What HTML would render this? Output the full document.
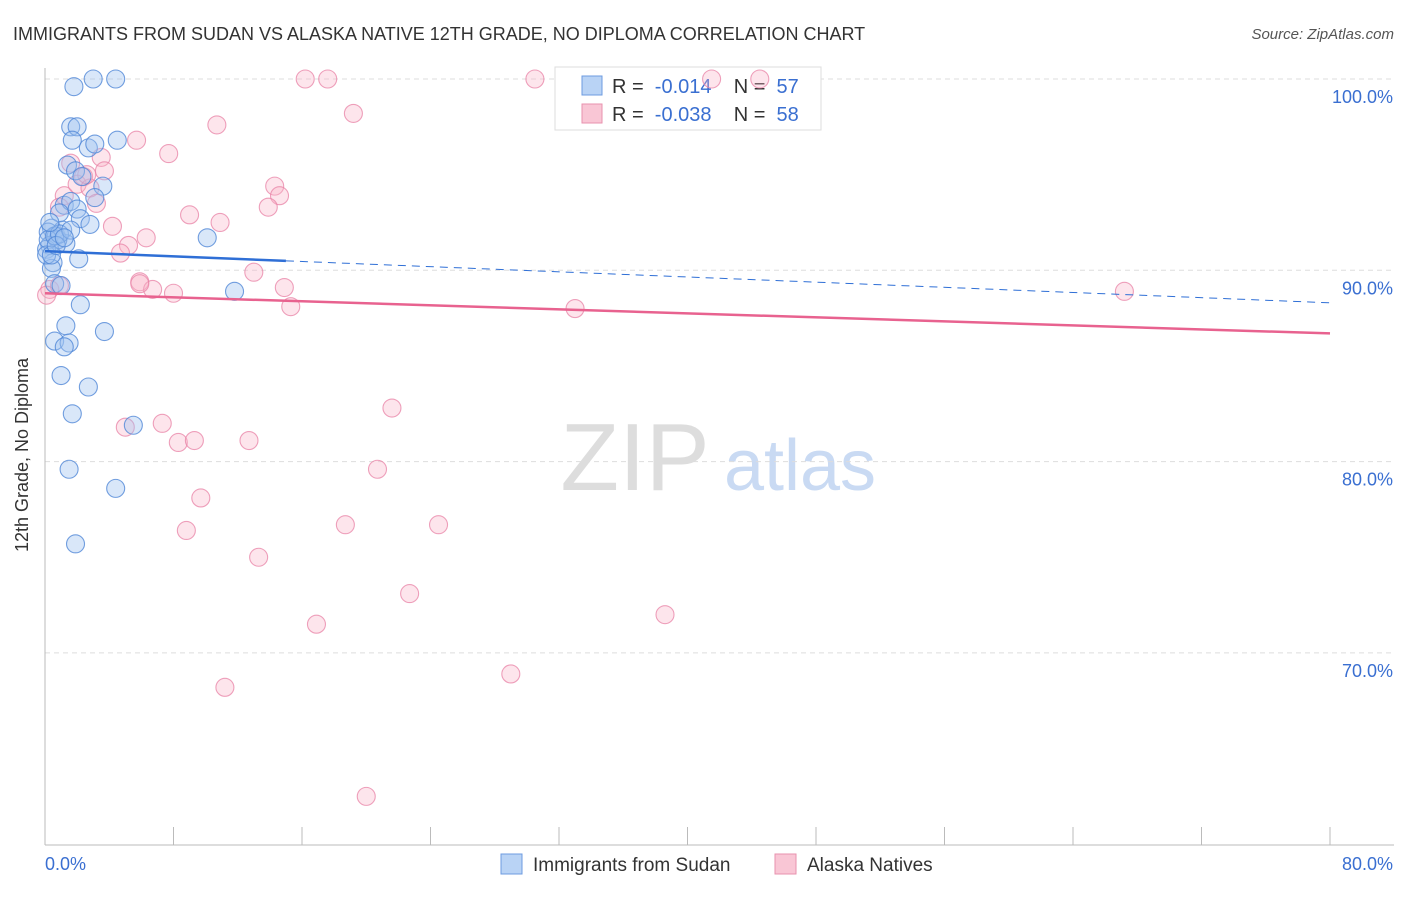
<!DOCTYPE html>
<html><head><meta charset="utf-8"><style>
body{margin:0;background:#fff;font-family:"Liberation Sans",sans-serif}
svg text{font-family:"Liberation Sans",sans-serif}
</style></head><body>
<svg width="1406" height="892" id="chart">
<text x="13" y="40" font-size="18" fill="#333">IMMIGRANTS FROM SUDAN VS ALASKA NATIVE 12TH GRADE, NO DIPLOMA CORRELATION CHART</text>
<text x="1394" y="39" font-size="15" fill="#555" text-anchor="end" font-style="italic">Source: ZipAtlas.com</text>
<text x="28" y="455" font-size="18" fill="#333" text-anchor="middle" transform="rotate(-90 28 455)">12th Grade, No Diploma</text>
<g><text x="635" y="490" font-size="96" fill="#ddd" font-family="Liberation Serif" text-anchor="middle">ZIP</text><text x="800" y="490" font-size="72" fill="#c9daf3" text-anchor="middle">atlas</text></g>
<g id="grid"></g><g id="axes"></g>
<g>
<rect x="555" y="67" width="266" height="63" fill="#fff" stroke="#ddd"/>
<rect x="582" y="76" width="20" height="19" fill="#b9d3f5" stroke="#6d9be0"/>
<rect x="582" y="104" width="20" height="19" fill="#f9c6d5" stroke="#e892ae"/>
<text x="612" y="93" font-size="20" fill="#333" xml:space="preserve">R =  <tspan fill="#3a6fd1">-0.014</tspan>    N =  <tspan fill="#3a6fd1">57</tspan></text>
<text x="612" y="121" font-size="20" fill="#333" xml:space="preserve">R =  <tspan fill="#3a6fd1">-0.038</tspan>    N =  <tspan fill="#3a6fd1">58</tspan></text>
</g>
<g id="marks"></g><g id="trends"></g>
<g>
<rect x="501" y="854" width="21" height="20" fill="#b9d3f5" stroke="#6d9be0"/>
<text x="533" y="871" font-size="19" fill="#333">Immigrants from Sudan</text>
<rect x="775" y="854" width="21" height="20" fill="#f9c6d5" stroke="#e892ae"/>
<text x="807" y="871" font-size="19" fill="#333">Alaska Natives</text>
</g>
</svg>
<script>
const yTicks=[100,90,80,70];
const yTickLabels=["100.0%","90.0%","80.0%","70.0%"];
const xTicks=[0,8,16,24,32,40,48,56,64,72,80];
const blueX=[1.8,3.0,4.4,1.6,2.0,1.7,2.7,3.1,4.5,1.4,1.9,2.3,3.6,3.1,1.2,1.6,2.0,0.9,2.2,2.8,10.1,0.4,0.2,0.7,1.1,1.3,0.3,0.8,0.1,0.5,0.4,2.1,0.6,1.0,2.2,1.3,3.7,0.6,1.5,1.2,1.0,2.7,1.7,5.5,1.5,4.4,1.9,11.8,0.2,0.6,0.9,0.1,1.6,0.4,0.7,1.2,0.3];
const blueY=[99.6,100,100,97.5,97.5,96.8,96.4,96.6,96.8,95.5,95.2,94.9,94.4,93.8,93.4,93.6,93.2,93.0,92.7,92.4,91.7,92.2,92.0,91.8,92.1,91.4,91.3,91.6,91.1,90.4,90.1,90.6,89.3,89.2,88.2,87.1,86.8,86.3,86.2,86.0,84.5,83.9,82.5,81.9,79.6,78.6,75.7,88.9,91.6,91.8,91.9,90.8,92.1,90.8,91.3,91.7,92.5];
const pinkX=[16.2,17.6,30.5,41.5,44.5,19.2,10.7,5.7,7.7,3.5,3.7,1.6,2.4,1.2,2.0,2.8,3.2,0.9,14.3,14.6,13.9,9.0,10.9,4.2,6.3,5.2,4.7,13.0,5.9,6.7,8.0,14.9,15.3,33.0,67.2,0.3,0.1,21.6,7.3,5.0,8.3,9.3,12.7,20.7,9.7,18.7,24.5,8.8,13.3,22.7,16.9,38.6,11.2,29.0,20.0,2.6,0.9,5.9];
const pinkY=[100,100,100,100,100,98.2,97.6,96.8,96.1,95.9,95.2,95.6,94.9,93.9,94.5,94.3,93.5,93.3,94.4,93.9,93.3,92.9,92.5,92.3,91.7,91.3,90.9,89.9,89.4,89.0,88.8,89.1,88.1,88.0,88.9,89.0,88.7,82.8,82.0,81.8,81.0,81.1,81.1,79.6,78.1,76.7,76.7,76.4,75.0,73.1,71.5,72.0,68.2,68.9,62.5,95.0,89.2,89.3];
const blueTrend=[91.0,88.3];
const pinkTrend=[88.8,86.7];
const NS="http://www.w3.org/2000/svg";
const X=v=>45+v*(1285/80);
const Y=v=>79+(100-v)*19.13;
function mk(t,a,p){const e=document.createElementNS(NS,t);for(const k in a)e.setAttribute(k,a[k]);document.getElementById(p).appendChild(e);return e;}
yTicks.forEach((t,i)=>{
 const g=mk('line',{x1:45,x2:1394,y1:Y(t),y2:Y(t),stroke:'#ddd','stroke-dasharray':'5,4'},'grid');
 
 
 const l=mk('text',{x:1393,y:Y(t)+24,'font-size':18,fill:'#3a6fd1','text-anchor':'end'},'axes');
 l.textContent=yTickLabels[i];
 
 
});
const ax=mk('line',{x1:45,x2:45,y1:68,y2:845,stroke:'#bbb'},'axes');


const bx=mk('line',{x1:45,x2:1394,y1:845,y2:845,stroke:'#bbb'},'axes');


xTicks.forEach(t=>{
 const k=mk('line',{x1:X(t),x2:X(t),y1:827,y2:845,stroke:'#bbb'},'axes');
 
 
});
const x0=mk('text',{x:45,y:870,'font-size':18,fill:'#3a6fd1'},'axes');x0.textContent='0.0%';


const x1=mk('text',{x:1393,y:870,'font-size':18,fill:'#3a6fd1','text-anchor':'end'},'axes');x1.textContent='80.0%';


function pts(xs,ys,fill,stroke,name){xs.forEach((v,i)=>{
 const c=mk('circle',{cx:X(v),cy:Y(ys[i]),r:9,fill:fill,stroke:stroke,'stroke-width':1.1},'marks');
 
 
});}
pts(pinkX,pinkY,'rgba(248,180,200,0.35)','rgba(232,130,165,0.75)','alaska-point');
pts(blueX,blueY,'rgba(160,196,240,0.4)','rgba(80,135,215,0.8)','sudan-point');
const bs=blueTrend[0]+(blueTrend[1]-blueTrend[0])*15/80;
const t1=mk('line',{x1:X(0),y1:Y(blueTrend[0]),x2:X(15),y2:Y(bs),stroke:'#2f6fd6','stroke-width':2.5},'trends');


const t2=mk('line',{x1:X(15),y1:Y(bs),x2:X(80),y2:Y(blueTrend[1]),stroke:'#2f6fd6','stroke-width':1,'stroke-dasharray':'8,6'},'trends');


const t3=mk('line',{x1:X(0),y1:Y(pinkTrend[0]),x2:X(80),y2:Y(pinkTrend[1]),stroke:'#e8628f','stroke-width':2.5},'trends');


</script>
</body></html>
